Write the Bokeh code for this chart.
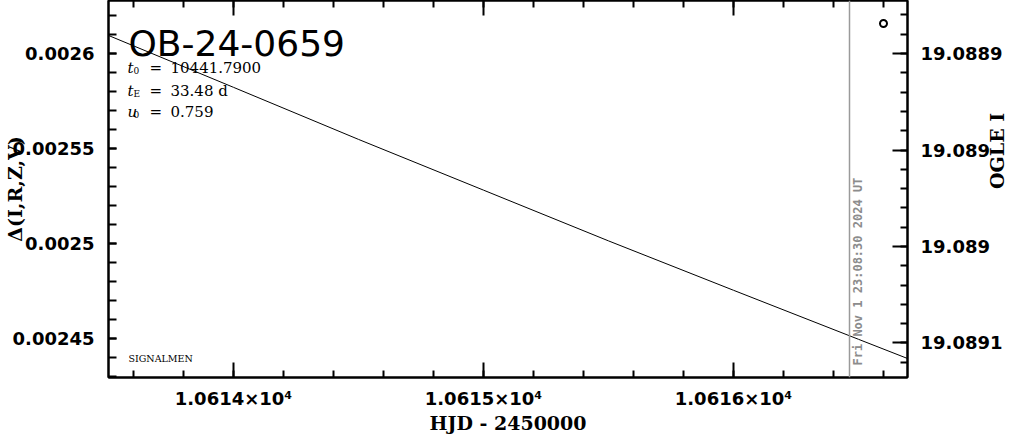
from math import pi
from bokeh.plotting import figure
from bokeh.models import (Range1d, LinearAxis, SingleIntervalTicker,
                          CustomJSTickFormatter, CustomLabelingPolicy, Label, Span)
from bokeh.embed import file_html
from bokeh.resources import INLINE

# ---------------- data ----------------
hjd = [10613.5, 10614.0, 10614.5, 10615.0, 10615.5, 10616.0, 10616.5, 10616.7]
delta = [0.0026095, 0.0025822, 0.0025548, 0.0025281, 0.0025014, 0.0024754, 0.0024496, 0.0024393]
obs_hjd = [10616.6]
obs_delta = [0.0026158]
now_hjd = 10616.464
now_text = "Fri Nov  1 23:08:30 2024 UT"
title_text = "OB-24-0659"
param_syms = ["t", "t", "u"]
param_subs = ["0", "E", "0"]
param_vals = ["10441.7900", "33.48 d", "0.759"]
x_tick_labels = ["1.0614×10⁴", "1.0615×10⁴", "1.0616×10⁴"]
mag_tick_labels = ["19.0889", "19.089", "19.089", "19.0891"]
x_label = "HJD - 2450000"
y_label = "Δ(I,R,Z,V)"
mag_label = "OGLE I"
credit = "SIGNALMEN"

FRAME_W, FRAME_H = 799, 377
TICK_FONT = "DejaVu Sans"
SERIF = "DejaVu Serif"

p = figure(frame_width=FRAME_W, frame_height=FRAME_H,
           x_range=Range1d(10613.5, 10616.696),
           y_range=Range1d(0.0024295, 0.0026279),
           output_backend="svg", toolbar_location=None,
           min_border_left=108, min_border_right=103,
           min_border_top=0, min_border_bottom=30,
           background_fill_color="white", border_fill_color="white")
p.extra_y_ranges = {"mag": Range1d(19.0890679, 19.0888725)}
p.xgrid.grid_line_color = None
p.ygrid.grid_line_color = None
p.outline_line_color = "black"
p.outline_line_width = 2


def style_axis(ax, major_in, minor_in):
    ax.axis_line_color = "black"
    ax.axis_line_width = 2
    ax.major_tick_in = major_in
    ax.major_tick_out = 0
    ax.minor_tick_in = minor_in
    ax.minor_tick_out = 0
    ax.major_tick_line_width = 2
    ax.minor_tick_line_width = 2
    ax.major_tick_line_color = "black"
    ax.minor_tick_line_color = "black"
    ax.major_label_text_font = TICK_FONT
    ax.major_label_text_font_style = "bold"
    ax.major_label_text_font_size = "18px"
    ax.major_label_text_color = "black"
    ax.axis_label_text_font = SERIF
    ax.axis_label_text_font_style = "bold"
    ax.axis_label_text_font_size = "19px"
    ax.axis_label_text_color = "black"


# bottom axis
xb = p.xaxis[0]
xb.ticker = SingleIntervalTicker(interval=1, num_minor_ticks=5)
xb.formatter = CustomJSTickFormatter(args=dict(labels=x_tick_labels), code="return labels[index]")
style_axis(xb, 15, 7)
xb.major_label_standoff = 10
xb.axis_label = x_label
xb.axis_label_standoff = 0

# left axis
yl = p.yaxis[0]
yl.ticker = SingleIntervalTicker(interval=0.00005, num_minor_ticks=5)
yl.formatter = CustomJSTickFormatter(code="return parseFloat(tick.toPrecision(3)).toString()")
style_axis(yl, 8, 8)
yl.major_label_standoff = 14
yl.axis_label = y_label
yl.axis_label_standoff = -16

# top axis (ticks only, no labels)
xt = LinearAxis(ticker=SingleIntervalTicker(interval=1, num_minor_ticks=5))
style_axis(xt, 15, 7)
xt.major_label_text_font_size = "0px"
xt.major_label_policy = CustomLabelingPolicy(code="return new Set()")
xt.major_label_standoff = 0
p.add_layout(xt, "above")

# right axis (OGLE I magnitude)
yr = LinearAxis(y_range_name="mag",
                ticker=SingleIntervalTicker(interval=0.00005, num_minor_ticks=5),
                formatter=CustomJSTickFormatter(args=dict(labels=mag_tick_labels),
                                                code="return labels[index]"))
style_axis(yr, 15, 7)
yr.major_label_standoff = 13
yr.axis_label = mag_label
yr.axis_label_standoff = -8
yr.axis_label_text_align = "center"
if "axis_label_orientation" in yr.properties():
    yr.axis_label_orientation = pi / 2
p.add_layout(yr, "right")

# model curve
p.line(hjd, delta, line_color="black", line_width=1)
# observation marker
p.scatter(obs_hjd, obs_delta, marker="circle", size=7, line_color="black",
          line_width=2, fill_color="white")

# current-time marker
p.add_layout(Span(location=now_hjd, dimension="height", line_color="#9a9a9a", line_width=1.5))
p.add_layout(Label(x=now_hjd, y=12, x_units="data", y_units="screen", angle=pi / 2,
                   x_offset=8, text=now_text, text_align="left", text_baseline="middle",
                   text_font="DejaVu Sans Mono", text_font_style="bold",
                   text_font_size="12px", text_color="#8c8c8c"))

# title and parameters
p.add_layout(Label(x=20, y=FRAME_H - 43, x_units="screen", y_units="screen",
                   text=title_text, text_font="DejaVu Sans", text_font_size="36px",
                   text_baseline="alphabetic", text_color="black"))
rows_top = [67, 90, 111]
for sym, sub, val, top in zip(param_syms, param_subs, param_vals, rows_top):
    yb = FRAME_H - top
    p.add_layout(Label(x=19, y=yb, x_units="screen", y_units="screen", text=sym,
                       text_font=SERIF, text_font_style="italic", text_font_size="15px",
                       text_baseline="alphabetic", text_color="black"))
    p.add_layout(Label(x=25, y=yb - 3, x_units="screen", y_units="screen", text=sub,
                       text_font=SERIF, text_font_size="9px", text_baseline="alphabetic",
                       text_color="black"))
    p.add_layout(Label(x=41, y=yb, x_units="screen", y_units="screen", text="=",
                       text_font=SERIF, text_font_size="15px", text_baseline="alphabetic",
                       text_color="black"))
    p.add_layout(Label(x=62, y=yb, x_units="screen", y_units="screen", text=val,
                       text_font=SERIF, text_font_size="15px", text_baseline="alphabetic",
                       text_color="black"))

p.add_layout(Label(x=20, y=19, x_units="screen", y_units="screen", text=credit,
                   text_font=SERIF, text_font_size="9.5px", text_baseline="alphabetic",
                   text_color="black"))

open("out.html", "w").write(file_html(p, INLINE))
